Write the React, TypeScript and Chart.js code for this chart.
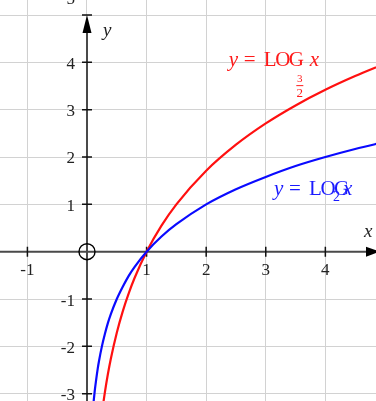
import React, { useEffect, useRef } from 'react';
import { Chart, registerables } from 'chart.js';

Chart.register(...registerables);

// Sampled points of y = log_2 x (blue)
const blueX = [0.1, 0.11, 0.13, 0.15, 0.18, 0.2, 0.25, 0.3, 0.35, 0.4, 0.5, 0.6, 0.7, 0.8, 1, 1.25, 1.5, 2, 2.5, 3, 3.5, 4, 4.5, 5];
const blueY = [-3.32, -3.18, -2.94, -2.74, -2.47, -2.32, -2, -1.74, -1.51, -1.32, -1, -0.74, -0.51, -0.32, 0, 0.32, 0.58, 1, 1.32, 1.58, 1.81, 2, 2.17, 2.32];

// Sampled points of y = log_{3/2} x (red)
const redX = [0.25, 0.27, 0.3, 0.35, 0.4, 0.5, 0.6, 0.7, 0.8, 1, 1.25, 1.5, 2, 2.5, 3, 3.5, 4, 4.5, 5];
const redY = [-3.42, -3.23, -2.97, -2.59, -2.26, -1.71, -1.26, -0.88, -0.55, 0, 0.55, 1, 1.71, 2.26, 2.71, 3.09, 3.42, 3.71, 3.97];

// Axis tick labels
const xTickLabels = [-1, 1, 2, 3, 4];
const yTickLabels = [-3, -2, -1, 1, 2, 3, 4, 5];

// Visible window
const xMin = -1.46;
const xMax = 4.85;
const yMin = -3.154;
const yMax = 5.317;

const SERIF = '"Times New Roman", "Liberation Serif", Tinos, serif';

const axesPlugin = {
  id: 'cartesianAxes',
  beforeDatasetsDraw(chart: any) {
    const { ctx, scales } = chart;
    const xs = scales.x;
    const ys = scales.y;
    const ox = xs.getPixelForValue(0);
    const oy = ys.getPixelForValue(0);
    const W = chart.width;
    const H = chart.height;
    ctx.save();

    // axis lines
    ctx.strokeStyle = '#4a4a4a';
    ctx.lineWidth = 2;
    ctx.beginPath();
    ctx.moveTo(0, oy);
    ctx.lineTo(W, oy);
    ctx.moveTo(ox, H);
    ctx.lineTo(ox, ys.getPixelForValue(5) + 4);
    ctx.stroke();

    // tick marks
    ctx.lineWidth = 1.5;
    ctx.strokeStyle = '#111';
    ctx.beginPath();
    xTickLabels.forEach((v) => {
      const px = xs.getPixelForValue(v);
      ctx.moveTo(px, oy - 5);
      ctx.lineTo(px, oy + 5);
    });
    yTickLabels.forEach((v) => {
      const py = ys.getPixelForValue(v);
      ctx.moveTo(ox - 5, py);
      ctx.lineTo(ox + 5, py);
    });
    ctx.stroke();

    // arrow heads
    ctx.fillStyle = '#000';
    const tipY = ys.getPixelForValue(5);
    ctx.beginPath();
    ctx.moveTo(ox, tipY);
    ctx.lineTo(ox - 4.5, tipY + 18);
    ctx.lineTo(ox + 4.5, tipY + 18);
    ctx.closePath();
    ctx.fill();
    ctx.beginPath();
    ctx.moveTo(W + 4, oy);
    ctx.lineTo(W - 10, oy - 5);
    ctx.lineTo(W - 10, oy + 5);
    ctx.closePath();
    ctx.fill();

    // origin marker
    ctx.strokeStyle = '#000';
    ctx.lineWidth = 1.4;
    ctx.beginPath();
    ctx.arc(ox, oy, 8, 0, Math.PI * 2);
    ctx.stroke();

    // tick labels
    ctx.fillStyle = '#222';
    ctx.font = `17px ${SERIF}`;
    ctx.textAlign = 'center';
    ctx.textBaseline = 'alphabetic';
    xTickLabels.forEach((v) => {
      const px = xs.getPixelForValue(v);
      ctx.fillText(String(v), px, oy + 23);
    });
    ctx.textAlign = 'right';
    ctx.textBaseline = 'middle';
    yTickLabels.forEach((v) => {
      const py = ys.getPixelForValue(v);
      const dy = v === 5 ? -15 : 2;
      ctx.fillText(String(v), ox - 12, py + dy);
    });

    // axis names
    ctx.font = `italic 19px ${SERIF}`;
    ctx.textAlign = 'left';
    ctx.textBaseline = 'alphabetic';
    ctx.fillText('y', ox + 16, ys.getPixelForValue(5) + 21);
    ctx.fillText('x', W - 12, oy - 15);
    ctx.restore();
  },
  afterDatasetsDraw(chart: any) {
    const { ctx, scales } = chart;
    const xs = scales.x;
    const ys = scales.y;
    ctx.save();
    ctx.textBaseline = 'alphabetic';
    ctx.textAlign = 'left';

    const drawLogLabel = (color: string, ax: number, ay: number, base: 'frac' | 'two') => {
      const x0 = xs.getPixelForValue(ax);
      const b = ys.getPixelForValue(ay);
      ctx.fillStyle = color;
      ctx.strokeStyle = color;
      ctx.font = `italic 21px ${SERIF}`;
      ctx.fillText('y', x0, b);
      ctx.font = `21px ${SERIF}`;
      ctx.fillText('=', x0 + 15, b);
      ctx.letterSpacing = '-1.5px';
      ctx.fillText('LOG', x0 + 35, b);
      ctx.letterSpacing = '0px';
      if (base === 'frac') {
        ctx.font = `italic 21px ${SERIF}`;
        ctx.fillText('x', x0 + 81, b);
        ctx.font = `11px ${SERIF}`;
        ctx.textAlign = 'center';
        ctx.fillText('3', x0 + 71, b + 16);
        ctx.lineWidth = 1;
        ctx.beginPath();
        ctx.moveTo(x0 + 67.5, b + 19.5);
        ctx.lineTo(x0 + 74.5, b + 19.5);
        ctx.stroke();
        ctx.font = `13px ${SERIF}`;
        ctx.fillText('2', x0 + 71, b + 31);
        ctx.textAlign = 'left';
      } else {
        ctx.font = `italic 21px ${SERIF}`;
        ctx.fillText('x', x0 + 69, b);
        ctx.font = `14px ${SERIF}`;
        ctx.fillText('2', x0 + 59, b + 6);
      }
    };

    drawLogLabel('#ff1a1a', 2.38, 3.92, 'frac');
    drawLogLabel('#1a1aff', 3.14, 1.2, 'two');
    ctx.restore();
  },
};

export default function App() {
  const canvasRef = useRef<HTMLCanvasElement | null>(null);

  useEffect(() => {
    const canvas = canvasRef.current;
    if (!canvas) return;
    const chart = new Chart(canvas, {
      type: 'line',
      data: {
        datasets: [
          {
            label: 'y = log_2 x',
            data: blueX.map((x, i) => ({ x, y: blueY[i] })),
            borderColor: '#0a0aff',
            borderWidth: 2.2,
            pointRadius: 0,
            fill: false,
            cubicInterpolationMode: 'monotone',
          },
          {
            label: 'y = log_{3/2} x',
            data: redX.map((x, i) => ({ x, y: redY[i] })),
            borderColor: '#ff1010',
            borderWidth: 2.2,
            pointRadius: 0,
            fill: false,
            cubicInterpolationMode: 'monotone',
          },
        ],
      },
      options: {
        responsive: false,
        animation: false,
        devicePixelRatio: 1,
        layout: { padding: 0 },
        events: [],
        plugins: {
          legend: { display: false },
          tooltip: { enabled: false },
        },
        scales: {
          x: {
            type: 'linear',
            min: xMin,
            max: xMax,
            border: { display: false },
            ticks: { display: false, stepSize: 1, includeBounds: false },
            grid: { color: '#d2d2d2', lineWidth: 1, drawTicks: false },
            afterFit: (s: any) => {
              s.height = 0;
            },
          },
          y: {
            type: 'linear',
            min: yMin,
            max: yMax,
            border: { display: false },
            ticks: { display: false, stepSize: 1, includeBounds: false },
            grid: { color: '#d2d2d2', lineWidth: 1, drawTicks: false },
            afterFit: (s: any) => {
              s.width = 0;
            },
          },
        },
      } as any,
      plugins: [axesPlugin],
    });
    return () => chart.destroy();
  }, []);

  return (
    <div style={{ position: 'fixed', left: 0, top: 0, width: 376, height: 401, background: '#fff' }}>
      <canvas ref={canvasRef} width={376} height={401} style={{ display: 'block' }} />
    </div>
  );
}
